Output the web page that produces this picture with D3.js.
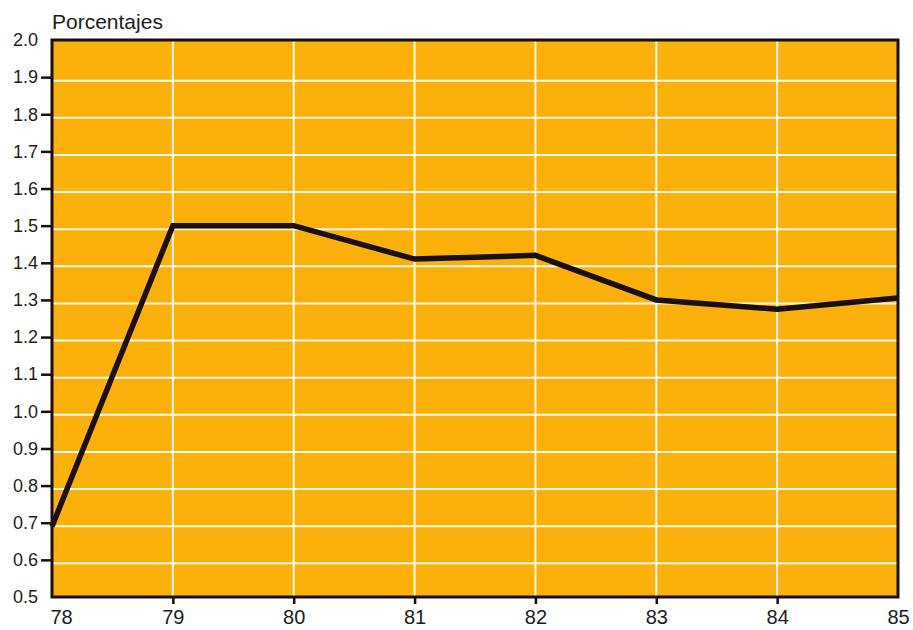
<!DOCTYPE html>
<html>
<head>
<meta charset="utf-8">
<script src="https://cdn.jsdelivr.net/npm/d3@7"></script>
<style>
html,body{margin:0;padding:0;background:#fff;}
svg{display:block;}
text{font-family:"Liberation Sans",Arial,Helvetica,sans-serif;fill:#1c1c1c;}
</style>
</head>
<body>
<svg id="chart" width="913" height="630"></svg>
<script>
const years = ["78","79","80","81","82","83","84","85"];
const values = [0.69, 1.50, 1.50, 1.41, 1.42, 1.30, 1.275, 1.305];
const yTicks = [0.5,0.6,0.7,0.8,0.9,1.0,1.1,1.2,1.3,1.4,1.5,1.6,1.7,1.8,1.9,2.0];
const yLabel = "Porcentajes";

const W = 913, H = 630;
const m = {left: 52, right: 15, top: 40, bottom: 33};
const svg = d3.select("#chart");
const x = d3.scalePoint().domain(years).range([m.left, W - m.right]);
const y = d3.scaleLinear().domain([0.5, 2.0]).range([H - m.bottom, m.top]);

// background
svg.append("rect")
  .attr("x", m.left).attr("y", m.top)
  .attr("width", W - m.right - m.left).attr("height", H - m.bottom - m.top)
  .attr("fill", "#fbb00c");

// gridlines (horizontal printed slightly offset, as in the reference)
const gOff = 3.5;
svg.append("g").selectAll("line").data(yTicks.filter(v => v > 0.5 && v < 2.0)).join("line")
  .attr("x1", m.left).attr("x2", W - m.right)
  .attr("y1", d => y(d) + gOff).attr("y2", d => y(d) + gOff)
  .attr("stroke", "#fff9e8").attr("stroke-width", 2);
svg.append("g").selectAll("line").data(years.slice(1, -1)).join("line")
  .attr("x1", d => x(d)).attr("x2", d => x(d))
  .attr("y1", m.top).attr("y2", H - m.bottom)
  .attr("stroke", "#fff9e8").attr("stroke-width", 2);

// line
const line = d3.line().x((d, i) => x(years[i])).y(d => y(d));
svg.append("path").datum(values)
  .attr("d", line)
  .attr("fill", "none").attr("stroke", "#1a0f0a")
  .attr("stroke-width", 5.5).attr("stroke-linejoin", "miter");

// frame
svg.append("rect")
  .attr("x", m.left).attr("y", m.top)
  .attr("width", W - m.right - m.left).attr("height", H - m.bottom - m.top)
  .attr("fill", "none").attr("stroke", "#1a0f0a").attr("stroke-width", 3);

// y axis
const yAxis = d3.axisLeft(y).tickValues(yTicks).tickFormat(d3.format(".1f")).tickSize(11).tickPadding(3);
const gy = svg.append("g").attr("transform", `translate(${m.left},0)`).call(yAxis);
gy.select(".domain").remove();
gy.selectAll(".tick line").attr("stroke", "#1a0f0a").attr("stroke-width", 2.5)
  .filter(d => d === 0.5 || d === 2.0).remove();
gy.selectAll(".tick text").attr("font-size", 18).attr("fill", "#1c1c1c")
  .style("font-family", '"Liberation Sans",Arial,sans-serif');

// x axis
const xAxis = d3.axisBottom(x).tickSize(7).tickPadding(6);
const gx = svg.append("g").attr("transform", `translate(0,${H - m.bottom})`).call(xAxis);
gx.select(".domain").remove();
gx.selectAll(".tick line").attr("stroke", "#1a0f0a").attr("stroke-width", 2.5)
  .filter(d => d === years[0] || d === years[years.length - 1]).remove();
gx.selectAll(".tick text").attr("font-size", 20).attr("fill", "#1c1c1c")
  .style("font-family", '"Liberation Sans",Arial,sans-serif');
gx.selectAll(".tick text").filter(d => d === years[0]).attr("text-anchor", "start").attr("dx", -2);

// title
svg.append("text").attr("x", m.left).attr("y", 29)
  .attr("font-size", 21).text(yLabel);
</script>
</body>
</html>
